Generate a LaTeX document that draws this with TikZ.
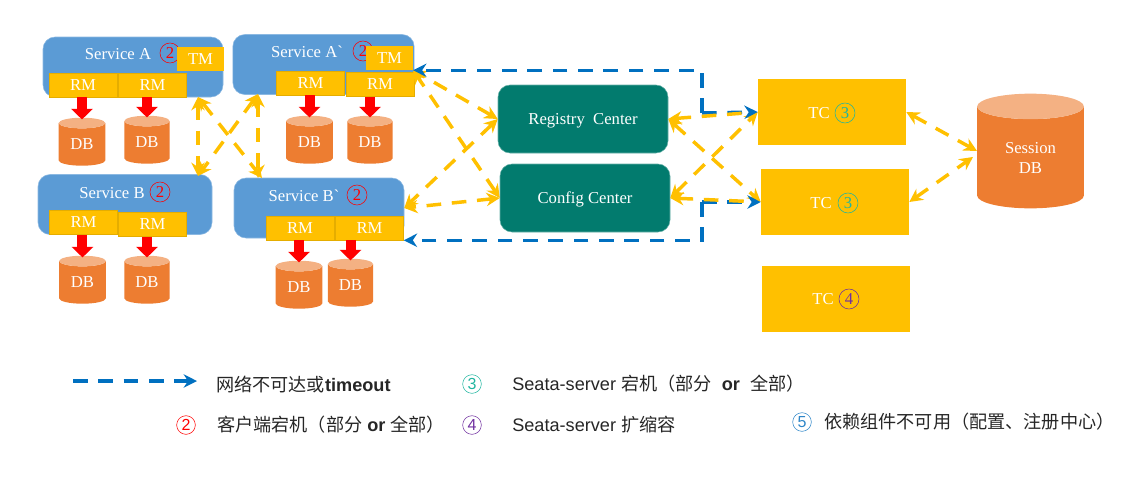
\documentclass[tikz,border=0pt]{standalone}
\usepackage{fontspec}
\usetikzlibrary{arrows.meta,shapes.geometric}
\setmainfont{Liberation Serif}
\setsansfont{Liberation Sans}
\newfontfamily\cjk{Noto Sans CJK SC}
\definecolor{ServiceBlue}{HTML}{5B9BD5}
\definecolor{BoxYellow}{HTML}{FFC000}
\definecolor{DbOrange}{HTML}{ED7D31}
\definecolor{DbTop}{HTML}{F4B183}
\definecolor{CenterTeal}{HTML}{027B6E}
\definecolor{LinkBlue}{HTML}{0070C0}
\definecolor{MarkTeal}{HTML}{1FB5A0}
\definecolor{MarkPurple}{HTML}{7030A0}
\definecolor{MarkBlue}{HTML}{2E86C8}

\begin{document}
\begin{tikzpicture}[x=0.75pt, y=-0.75pt,
  every node/.style={font=\fontsize{12.5}{15}\selectfont, inner sep=0pt},
  service/.style={fill=ServiceBlue, draw=ServiceBlue!70, rounded corners=9pt, minimum height=45pt},
  rmbox/.style={fill=BoxYellow, draw=BoxYellow!90!black, minimum width=51pt, minimum height=18pt, text=white},
  tmbox/.style={fill=BoxYellow, minimum width=35pt, minimum height=18pt, text=white},
  tcbox/.style={fill=BoxYellow, minimum width=111pt, minimum height=49.5pt},
  centerbox/.style={fill=CenterTeal, draw=CenterTeal!60, rounded corners=9pt, minimum width=127.5pt,
    minimum height=51pt, text=white, align=center, text height=8pt, text depth=0pt},
  dbcyl/.style={cylinder, shape border rotate=90, shape aspect=0.46, cylinder uses custom fill,
    cylinder body fill=DbOrange, cylinder end fill=DbTop, minimum height=36pt, minimum width=35pt,
    text=white, align=center},
  markring/.style={circle, draw=#1, text=#1, minimum size=15pt},
  legmark/.style={circle, draw=#1, text=#1, minimum size=14pt, font=\sffamily\fontsize{12}{14}\selectfont},
  legtext/.style={anchor=west, font=\sffamily\fontsize{13.6}{16}\selectfont, text=black!85},
  dbarrow/.style={red, line width=7.5pt, shorten >=-1.5pt, -{Triangle[width=16pt,length=8pt]}},
  yellowlink/.style={BoxYellow, line width=2.6pt, dash pattern=on 11pt off 8pt,
    {Stealth[length=10pt,width=10pt]}-{Stealth[length=10pt,width=10pt]}},
  yellowback/.style={BoxYellow, line width=2.6pt, dash pattern=on 11pt off 8pt,
    {Stealth[length=10pt,width=10pt]}-, shorten >=9pt},
  bluelink/.style={LinkBlue, line width=2.6pt, dash pattern=on 11pt off 8pt,
    -{Stealth[length=10pt,width=10pt]}}]
  \useasboundingbox (0,0) rectangle (1128,494);

  \node[service, minimum width=135pt] (svca) at (133,67) {};
  \node[text=white] (labela) at (118,54) {Service A};
  \node[markring=red] (marka) at (170,53) {2};
  \node[tmbox] (tma) at (200.5,59) {TM};
  \node[rmbox] (rma1) at (83,85) {RM};
  \node[rmbox] (rma2) at (152.5,85) {RM};
  \node[dbcyl] (dba1) at (82,144.5) {DB};
  \node[dbcyl, minimum width=34pt] (dba2) at (147,142.5) {DB};

  \node[service, minimum width=136pt] (svcap) at (323.5,64.5) {};
  \node[text=white] (labelap) at (307,52) {Service A\textasciigrave};
  \node[markring=red] (markap) at (363,51) {2};
  \node[tmbox] (tmap) at (389.5,58) {TM};
  \node[rmbox] (rmap1) at (310.5,83) {RM};
  \node[rmbox] (rmap2) at (380,84.5) {RM};
  \node[dbcyl] (dbap1) at (309.5,142.5) {DB};
  \node[dbcyl, minimum width=34pt] (dbap2) at (370,142.5) {DB};

  \node[service, minimum width=130.5pt] (svcb) at (125,204.5) {};
  \node[text=white] (labelb) at (112,193) {Service B};
  \node[markring=red] (markb) at (160,192) {2};
  \node[rmbox] (rmb1) at (83.5,222.5) {RM};
  \node[rmbox] (rmb2) at (152.5,224.5) {RM};
  \node[dbcyl] (dbb1) at (82.5,282.5) {DB};
  \node[dbcyl, minimum width=34pt] (dbb2) at (147,282.5) {DB};

  \node[service, minimum width=127.5pt] (svcbp) at (319,208) {};
  \node[text=white] (labelbp) at (304,196) {Service B\textasciigrave};
  \node[markring=red] (markbp) at (357,195) {2};
  \node[rmbox] (rmbp1) at (300,228) {RM};
  \node[rmbox] (rmbp2) at (369.5,228) {RM};
  \node[dbcyl] (dbbp1) at (299,287.5) {DB};
  \node[dbcyl, minimum width=34pt] (dbbp2) at (350.5,285.5) {DB};

  \node[centerbox] (registry) at (583,119) {Registry\ \ Center};
  \node[centerbox] (config) at (585,198) {Config Center};

  \node[tcbox] (tc1) at (832,112) {};
  \node[text=white] (labeltc1) at (819,113) {TC};
  \node[markring=MarkTeal] (marktc1) at (845,113) {3};
  \node[tcbox] (tc2) at (835,202) {};
  \node[text=white] (labeltc2) at (821,203) {TC};
  \node[markring=MarkTeal] (marktc2) at (848,203) {3};
  \node[tcbox] (tc3) at (836,299) {};
  \node[text=white] (labeltc3) at (823,299) {TC};
  \node[markring=MarkPurple] (marktc3) at (849,299) {4};

  \node[dbcyl, minimum height=86pt, minimum width=80pt, shape aspect=0.5] (session) at (1030.5,157.5) {Session\\DB};

  \draw[dbarrow] (dba1.north |- rma1.south) -- (dba1.north);
  \draw[dbarrow] (dba2.north |- rma2.south) -- (dba2.north);
  \draw[dbarrow] (dbap1.north |- rmap1.south) -- (dbap1.north);
  \draw[dbarrow] (dbap2.north |- rmap2.south) -- (dbap2.north);
  \draw[dbarrow] (dbb1.north |- rmb1.south) -- (dbb1.north);
  \draw[dbarrow] (dbb2.north |- rmb2.south) -- (dbb2.north);
  \draw[dbarrow] (dbbp1.north |- rmbp1.south) -- (dbbp1.north);
  \draw[dbarrow] (dbbp2.north |- rmbp2.south) -- (dbbp2.north);

  \coordinate (svcaout) at (198,97);
  \coordinate (svcbin) at (198,176);
  \coordinate (svcapout) at (258,94);
  \coordinate (svcbpin) at (258,178);
  \coordinate (svcbpcross) at (262,178);
  \coordinate (sessionhigh) at (977,151);
  \coordinate (sessionlow) at (973,157);
  \coordinate (bluetop) at (702,113);
  \coordinate (bluelow) at (702,202);

  \draw[yellowlink] (svcaout) -- (svcbin);
  \draw[yellowlink] (svcaout) -- (svcbpcross);
  \draw[yellowlink] (svcapout) -- (svcbin);
  \draw[yellowlink] (svcapout) -- (svcbpin);

  \draw[yellowlink] (registry.west) -- (tmap.south east);
  \draw[yellowlink] (registry.west) -- (svcbp.east);
  \draw[yellowlink] (config.west) -- (tmap.south east);
  \draw[yellowlink] (config.west) -- (svcbp.east);

  \draw[yellowlink] (registry.east) -- (tc2.west);
  \draw[yellowlink] (config.east) -- (tc1.west);

  \draw[bluelink] (bluetop) |- (tmap.south east);
  \draw[bluelink] (bluetop) -- (tc1.west);
  \draw[bluelink] (bluelow) |- (rmbp2.south east);
  \draw[bluelink] (bluelow) -- (tc2.west);

  \draw[yellowback] (registry.east) -- (tc1.west);
  \draw[yellowback] (config.east) -- (tc2.west);

  \draw[yellowlink] (tc1.east) -- (sessionhigh);
  \draw[yellowlink] (tc2.east) -- (sessionlow);

  \coordinate (legstart) at (73,381);
  \coordinate (legstop) at (197,381);
  \draw[bluelink] (legstart) -- (legstop);
  \node[legtext] (legtimeout) at (216,384) {{\cjk 网络不可达或}\textbf{timeout}};
  \node[legmark=MarkTeal] (legdown) at (472,384) {3};
  \node[legtext] (legdowntext) at (512,384) {Seata-server {\cjk 宕机（部分}\ \ \textbf{or}\ \ {\cjk 全部）}};
  \node[legmark=red] (legclient) at (186,425) {2};
  \node[legtext] (legclienttext) at (217,425) {{\cjk 客户端宕机（部分} \textbf{or} {\cjk 全部）}};
  \node[legmark=MarkPurple] (legscale) at (472,425) {4};
  \node[legtext] (legscaletext) at (512,425) {Seata-server {\cjk 扩缩容}};
  \node[legmark=MarkBlue] (legdep) at (802,422) {5};
  \node[legtext] (legdeptext) at (824,422) {{\cjk 依赖组件不可用（配置、注册中心）}};
\end{tikzpicture}
\end{document}
